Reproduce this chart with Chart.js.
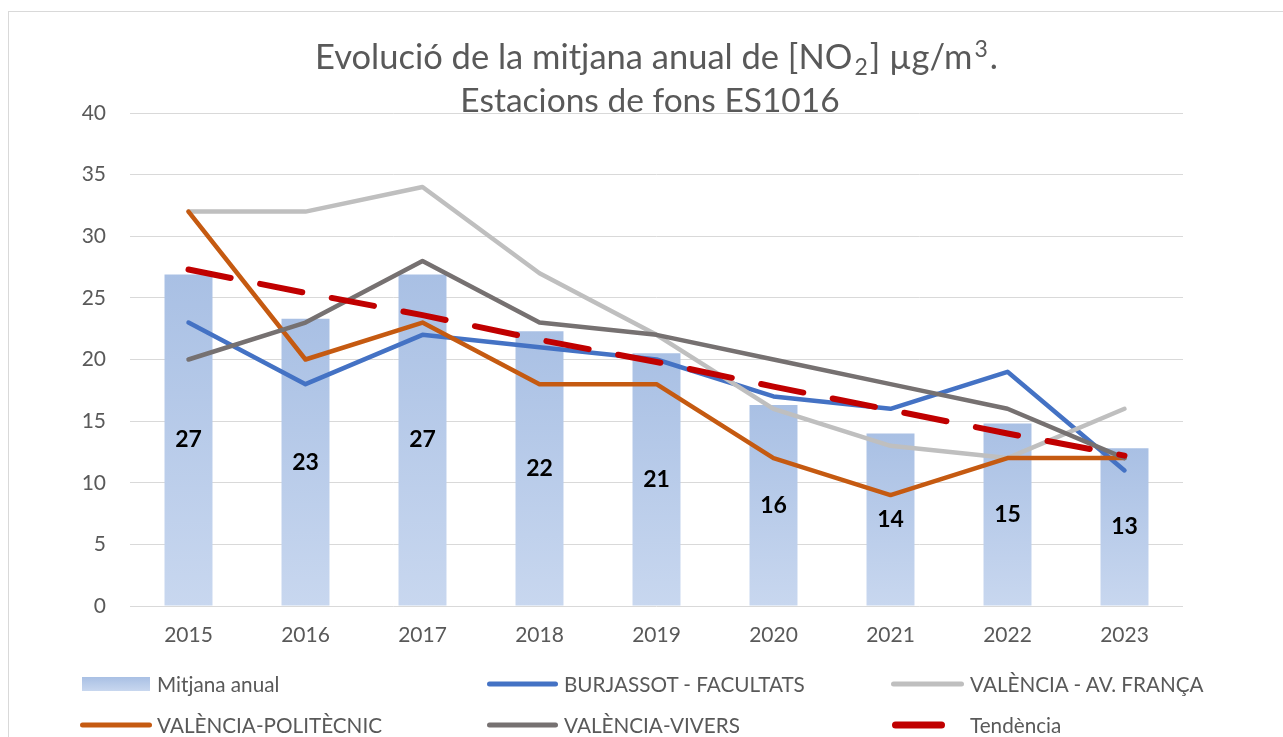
<!DOCTYPE html>
<html>
<head>
<meta charset="utf-8">
<script src="https://cdn.jsdelivr.net/npm/chart.js@4"></script>
<style>
  html, body { margin:0; padding:0; background:#fff; }
  #wrap { position:relative; width:1283px; height:737px; overflow:hidden; background:#fff; font-family: Lato, sans-serif; }
  #frame { position:absolute; left:8px; top:11px; width:1400px; height:900px; border:1px solid #d9d9d9; box-sizing:border-box; }
  canvas { position:absolute; left:0; top:0; }
  .lg { position:absolute; transform:translateY(-50%); }
  .txt { position:absolute; font-size:20.7px; color:#595959; line-height:24px; transform:translateY(-50%); white-space:nowrap; }
</style>
</head>
<body>
<div id="wrap">
  <div id="frame"></div>
  <canvas id="c" width="1283" height="737"></canvas>
  <div id="legend"></div>
</div>
<script>
// ---- data ----
const years = ['2015','2016','2017','2018','2019','2020','2021','2022','2023'];
const mitjanaAnual = [26.9, 23.3, 26.9, 22.3, 20.5, 16.3, 14.0, 14.8, 12.8];
const burjassot = [23, 18, 22, 21, 20, 17, 16, 19, 11];
const avFranca = [32, 32, 34, 27, 22, 16, 13, 12, 16];
const politecnic = [32, 20, 23, 18, 18, 12, 9, 12, 12];
const vivers = [20, 23, 28, 23, 22, 20, 18, 16, 12];
const tendencia = [27.3, 25.4, 23.6, 21.6, 19.8, 17.8, 15.9, 14.0, 12.2];
const seriesNames = ['Mitjana anual','BURJASSOT - FACULTATS','VALÈNCIA - AV. FRANÇA','VALÈNCIA-POLITÈCNIC','VALÈNCIA-VIVERS','Tendència'];
const yMin = 0, yMax = 40, yStep = 5;
const titleLine1 = [
  {t:'Evolució de la mitjana anual de [NO'}, {t:'2', sub:true}, {t:'] µg/m'}, {t:'3', sup:true}, {t:'.'}
];
const titleLine2 = 'Estacions de fons ES1016';

// ---- styles ----
const FONT = 'Lato, "Open Sans", sans-serif';
const TXT = '#595959';
const C_BLUE = '#4472c4', C_LGREY = '#bfbfbf', C_ORANGE = '#c55a11', C_DGREY = '#767171', C_RED = '#c00000';
const BAR_TOP = '#a9c0e4', BAR_BOT = '#c8d7ef';

function barGradient(ctx) {
  const chart = ctx.chart;
  const area = chart.chartArea;
  if (!area || ctx.type !== 'data') return BAR_TOP;
  const yScale = chart.scales.y;
  const top = yScale.getPixelForValue(ctx.raw);
  const bot = yScale.getPixelForValue(0);
  if (!isFinite(top) || Math.abs(bot - top) < 1) return BAR_TOP;
  const g = chart.ctx.createLinearGradient(0, top, 0, bot);
  g.addColorStop(0, BAR_TOP);
  g.addColorStop(1, BAR_BOT);
  return g;
}

const titlePlugin = {
  id: 'customTitle',
  afterDraw(chart) {
    const c = chart.ctx;
    c.save();
    c.fillStyle = TXT;
    c.textBaseline = 'alphabetic';
    c.textAlign = 'left';
    // line 1 with sub/superscripts
    const size = 34.5;
    const small = Math.round(size * 0.68);
    let total = 0;
    const gap = 2;
    for (const s of titleLine1) {
      c.font = ((s.sub || s.sup) ? small : size) + 'px ' + FONT;
      total += c.measureText(s.t).width + ((s.sub || s.sup) ? gap * 2 : 0);
    }
    let x = 656.5 - total / 2;
    const base1 = 69;
    for (const s of titleLine1) {
      const isSmall = s.sub || s.sup;
      c.font = (isSmall ? small : size) + 'px ' + FONT;
      const dy = s.sub ? 6 : (s.sup ? -12 : 0);
      if (isSmall) x += gap;
      c.fillText(s.t, x, base1 + dy);
      x += c.measureText(s.t).width + (isSmall ? gap : 0);
    }
    c.font = '33.5px ' + FONT;
    c.textAlign = 'center';
    c.fillText(titleLine2, 650, 112);
    c.restore();
  }
};

const barLabelPlugin = {
  id: 'barLabels',
  afterDatasetsDraw(chart) {
    const meta = chart.getDatasetMeta(0);
    const c = chart.ctx;
    c.save();
    c.font = 'bold 23px ' + FONT;
    c.fillStyle = '#000';
    c.textAlign = 'center';
    c.textBaseline = 'middle';
    meta.data.forEach((el, i) => {
      const v = chart.data.datasets[0].data[i];
      c.fillText(String(Math.round(v)), el.x, (el.y + el.base) / 2);
    });
    c.restore();
  }
};

function lineDs(label, data, color, order, extra) {
  return Object.assign({
    type: 'line', label, data, borderColor: color, backgroundColor: color,
    borderWidth: 4.5, pointRadius: 0, pointHoverRadius: 0, tension: 0,
    borderJoinStyle: 'round', borderCapStyle: 'round', fill: false, order
  }, extra || {});
}

const chart = new Chart(document.getElementById('c'), {
  type: 'bar',
  data: {
    labels: years,
    datasets: [
      { type: 'bar', label: seriesNames[0], data: mitjanaAnual, backgroundColor: barGradient,
        borderWidth: 0, categoryPercentage: 1, barPercentage: 0.41, order: 10 },
      lineDs(seriesNames[1], burjassot, C_BLUE, 5),
      lineDs(seriesNames[2], avFranca, C_LGREY, 4),
      lineDs(seriesNames[3], politecnic, C_ORANGE, 3),
      lineDs(seriesNames[4], vivers, C_DGREY, 2),
      lineDs(seriesNames[5], tendencia, C_RED, 1, { borderWidth: 6, borderDash: [43, 30], borderCapStyle: 'round' })
    ]
  },
  options: {
    responsive: false,
    animation: false,
    devicePixelRatio: 1,
    layout: { padding: { left: 0, right: 100, top: 113, bottom: 0 } },
    plugins: { legend: { display: false }, title: { display: false }, tooltip: { enabled: false } },
    scales: {
      x: {
        grid: { display: false, drawTicks: false },
        border: { display: false },
        ticks: { color: TXT, font: { family: FONT, size: 21 }, padding: 17 },
        afterFit(s) { s.height = 131; }
      },
      y: {
        min: yMin, max: yMax,
        grid: { color: '#d9d9d9', lineWidth: 1, drawTicks: false },
        border: { display: false },
        ticks: { stepSize: yStep, color: TXT, font: { family: FONT, size: 21 }, padding: 24 },
        afterFit(s) { s.width = 130; }
      }
    }
  },
  plugins: [titlePlugin, barLabelPlugin]
});

// ---- HTML legend ----
const legendItems = [
  { name: seriesNames[0], kind: 'rect', x1: 82, x2: 150, y: 684, tx: 157 },
  { name: seriesNames[1], kind: 'line', color: C_BLUE, h: 5, x1: 487, x2: 558, y: 684, tx: 564 },
  { name: seriesNames[2], kind: 'line', color: C_LGREY, h: 5, x1: 891, x2: 964, y: 684, tx: 970 },
  { name: seriesNames[3], kind: 'line', color: C_ORANGE, h: 5, x1: 80, x2: 152, y: 725, tx: 157 },
  { name: seriesNames[4], kind: 'line', color: C_DGREY, h: 5, x1: 487, x2: 558, y: 725, tx: 564 },
  { name: seriesNames[5], kind: 'line', color: C_RED, h: 7, x1: 892, x2: 945, y: 725, tx: 970 }
];
const lg = document.getElementById('legend');
for (const it of legendItems) {
  const sw = document.createElement('div');
  sw.className = 'lg';
  sw.style.left = it.x1 + 'px';
  sw.style.width = (it.x2 - it.x1) + 'px';
  sw.style.top = it.y + 'px';
  if (it.kind === 'rect') {
    sw.style.height = '14px';
    sw.style.background = 'linear-gradient(' + BAR_TOP + ',' + BAR_BOT + ')';
  } else {
    sw.style.height = it.h + 'px';
    sw.style.background = it.color;
    sw.style.borderRadius = (it.h / 2) + 'px';
  }
  lg.appendChild(sw);
  const t = document.createElement('div');
  t.className = 'txt';
  t.style.left = it.tx + 'px';
  t.style.top = it.y + 'px';
  t.textContent = it.name;
  lg.appendChild(t);
}
</script>
</body>
</html>
